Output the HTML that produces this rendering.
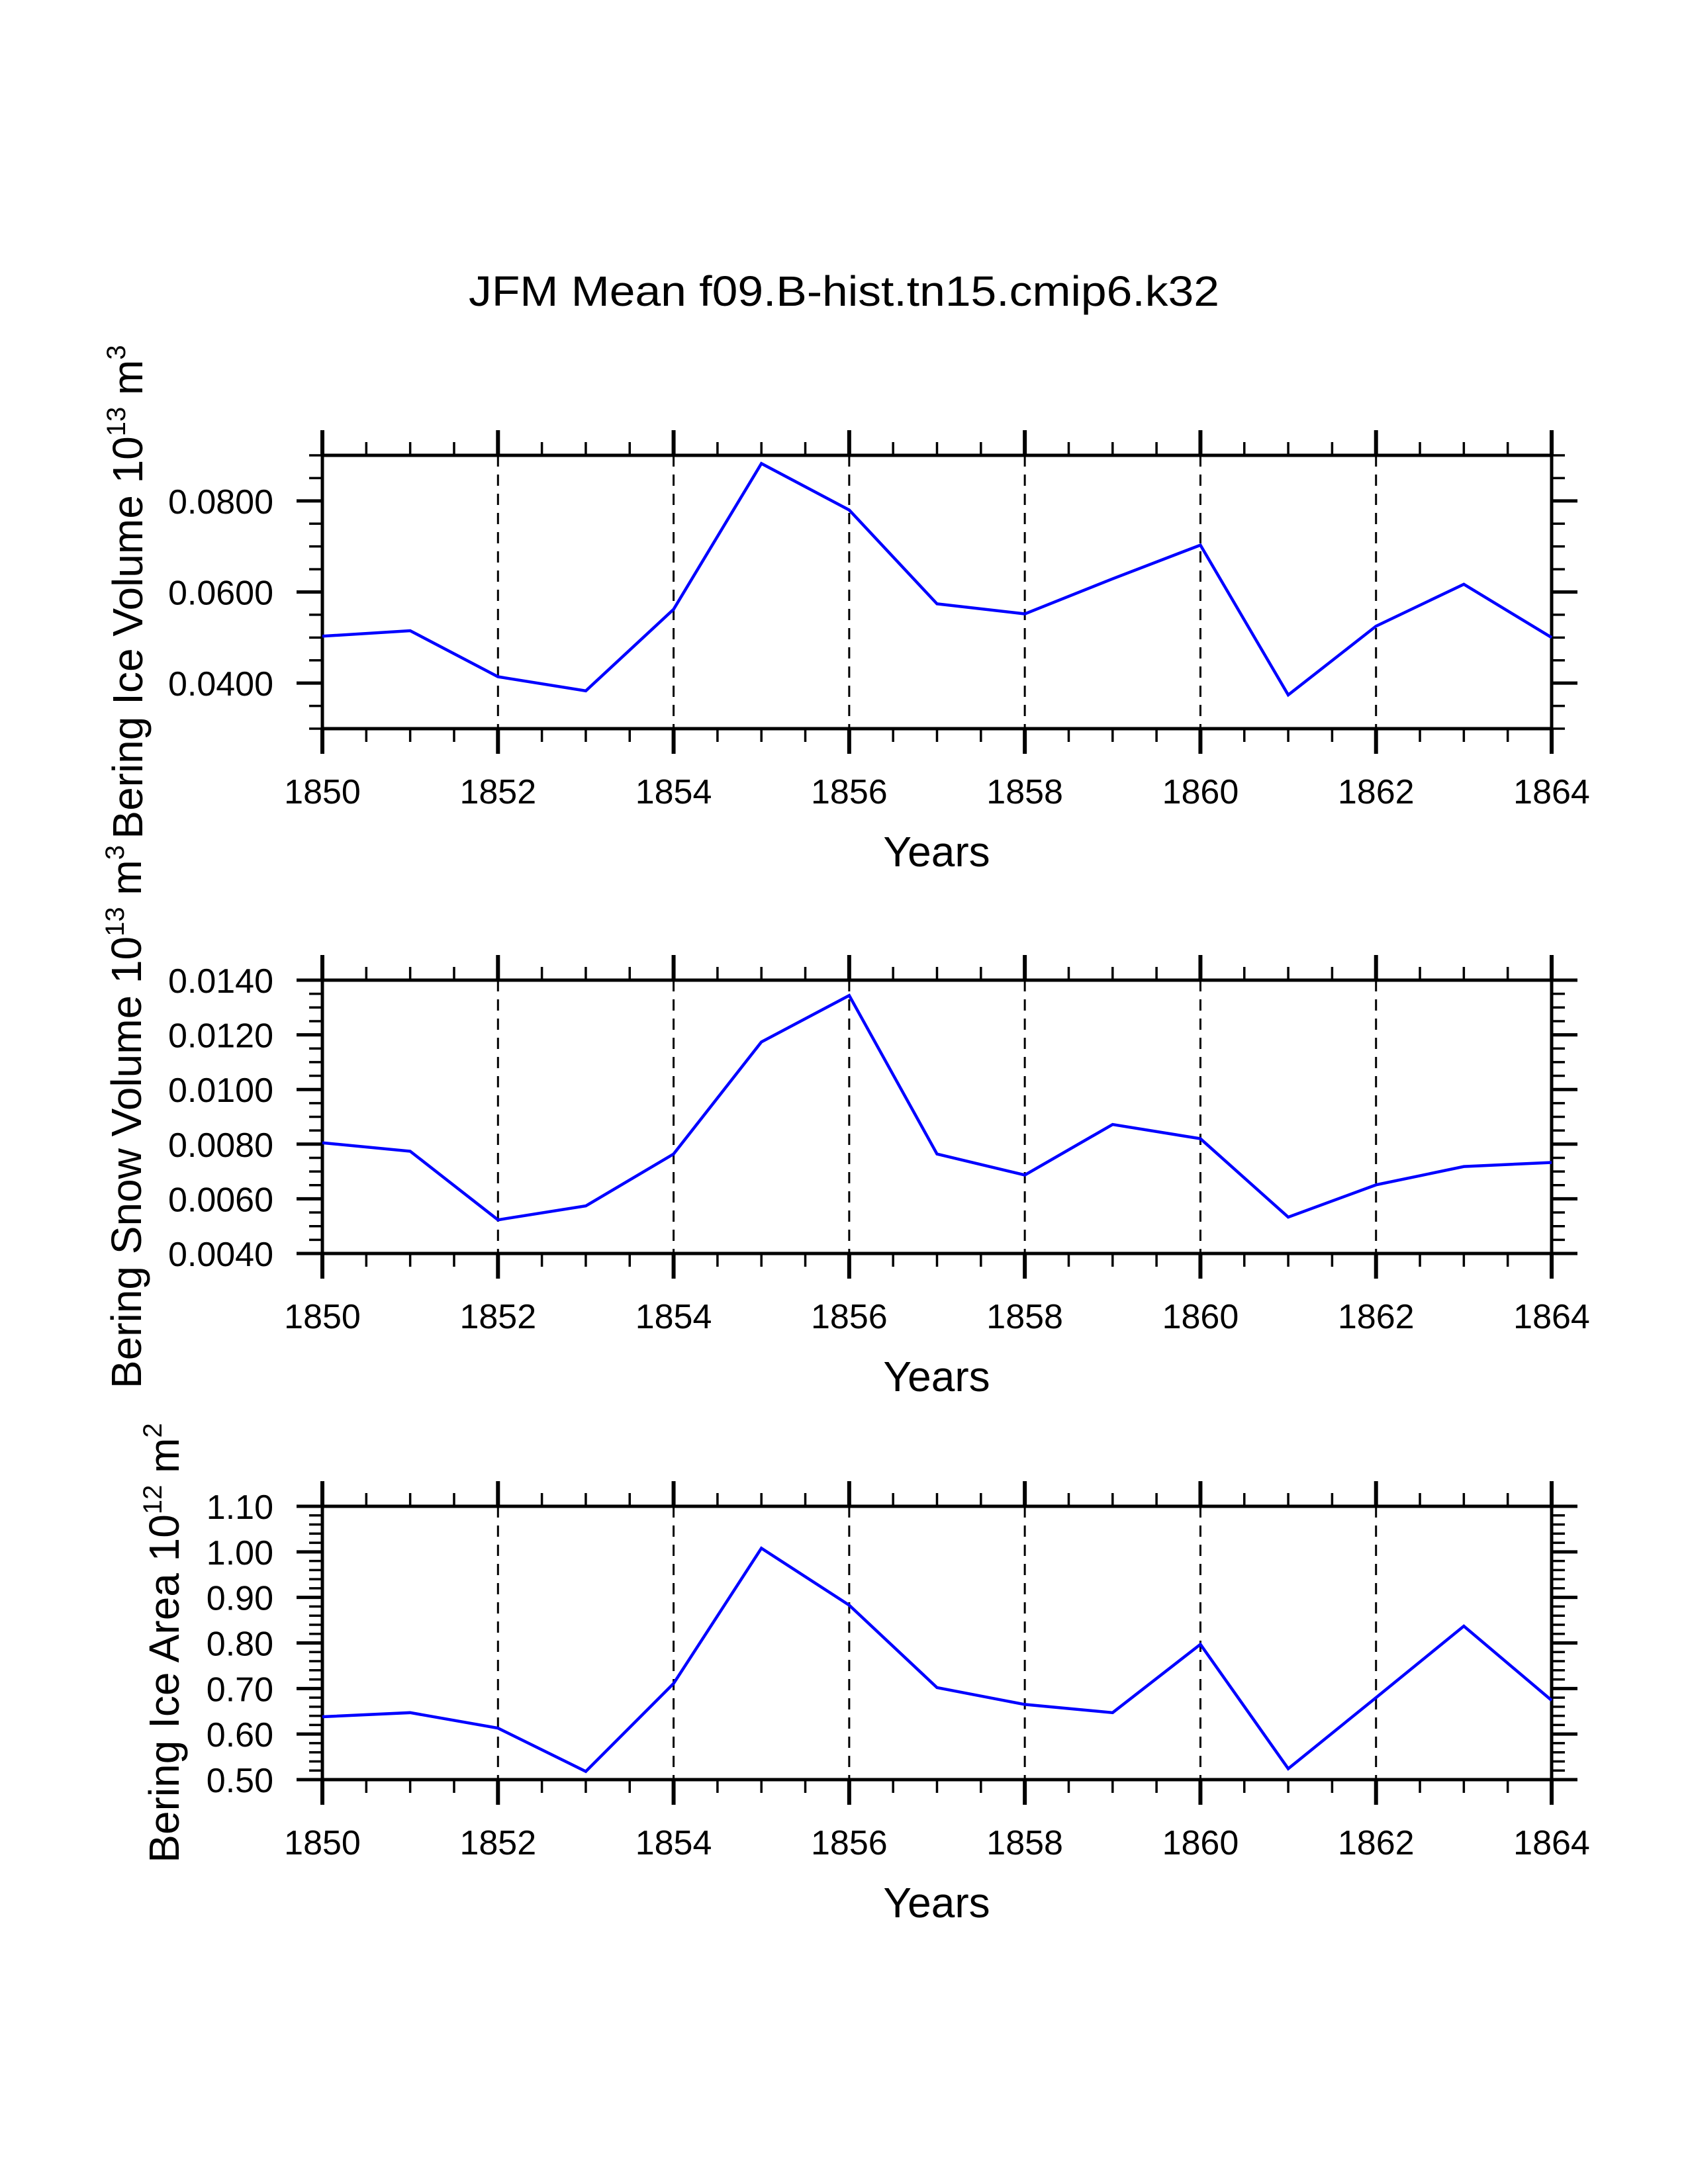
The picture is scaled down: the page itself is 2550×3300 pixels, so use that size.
<!DOCTYPE html>
<html><head><meta charset="utf-8"><style>
html,body{margin:0;padding:0;background:#fff;}
svg{display:block;}
text{font-family:"Liberation Sans",Arial,sans-serif;fill:#000;}
</style></head>
<body>
<svg id="chart" width="2550" height="3300" viewBox="0 0 2550 3300" xmlns="http://www.w3.org/2000/svg">
<text x="1275" y="462" font-size="64" text-anchor="middle" textLength="1134" lengthAdjust="spacingAndGlyphs">JFM Mean f09.B-hist.tn15.cmip6.k32</text>
</svg>
<script>
const years = [1850,1851,1852,1853,1854,1855,1856,1857,1858,1859,1860,1861,1862,1863,1864];
const iceVolume = [0.0503,0.0515,0.0414,0.0383,0.0562,0.0882,0.0780,0.0574,0.0552,0.0629,0.0703,0.0374,0.0525,0.0617,0.0500];
const snowVolume = [0.00805,0.00774,0.00523,0.00574,0.00764,0.01174,0.01344,0.00764,0.00687,0.00872,0.00820,0.00533,0.00651,0.00718,0.00733];
const iceArea = [0.638,0.647,0.613,0.518,0.711,1.008,0.883,0.702,0.665,0.647,0.797,0.524,0.680,0.837,0.674];
const xTickLabels = ["1850","1852","1854","1856","1858","1860","1862","1864"];
const iceVolTicks = ["0.0400","0.0600","0.0800"];
const snowVolTicks = ["0.0040","0.0060","0.0080","0.0100","0.0120","0.0140"];
const iceAreaTicks = ["0.50","0.60","0.70","0.80","0.90","1.00","1.10"];

const NS="http://www.w3.org/2000/svg";
const svg=document.getElementById('chart');
const X0=487,X1=2344,XMIN=1850,XMAX=1864;
function xs(v){return X0+(v-XMIN)/(XMAX-XMIN)*(X1-X0);}
function mk(tag,attrs,parent){const e=document.createElementNS(NS,tag);for(const k in attrs)e.setAttribute(k,attrs[k]);(parent||svg).appendChild(e);return e;}

const panels=[
 {name:'ice-volume',top:688,bot:1101,min:0.03,max:0.09,minor:0.005,ticks:iceVolTicks,data:iceVolume,lx:215,label:'Bering Ice Volume 10',sup1:'13',unit:' m',sup2:'3'},
 {name:'snow-volume',top:1481,bot:1894,min:0.004,max:0.014,minor:0.0005,ticks:snowVolTicks,data:snowVolume,lx:213,label:'Bering Snow Volume 10',sup1:'13',unit:' m',sup2:'3'},
 {name:'ice-area',top:2276,bot:2689,min:0.5,max:1.1,minor:0.02,ticks:iceAreaTicks,data:iceArea,lx:270,label:'Bering Ice Area 10',sup1:'12',unit:' m',sup2:'2'}
];

panels.forEach(p=>{
  const g=mk('g',{});
  
  
  const ys=v=>p.bot-(v-p.min)/(p.max-p.min)*(p.bot-p.top);
  for(let i=1;i<xTickLabels.length-1;i++){
    const x=xs(+xTickLabels[i]);
    const l=mk('line',{x1:x,x2:x,y1:p.top,y2:p.bot,stroke:'#000','stroke-width':3,'stroke-dasharray':'17 12'},g);
    
    
  }
  for(let v=XMIN;v<=XMAX+1e-9;v+=0.5){
    const x=xs(v);const major=Math.abs((v-XMIN)%2)<1e-9;
    const len=major?38:20,w=major?6:3.5;
    mk('line',{x1:x,x2:x,y1:p.top,y2:p.top-len,stroke:'#000','stroke-width':w},g);
    mk('line',{x1:x,x2:x,y1:p.bot,y2:p.bot+len,stroke:'#000','stroke-width':w},g);
  }
  const n=Math.round((p.max-p.min)/p.minor);
  const majorVals=p.ticks.map(Number);
  for(let i=0;i<=n;i++){
    const v=p.min+i*p.minor;const y=ys(v);
    const major=majorVals.some(m=>Math.abs(m-v)<p.minor/10);
    const len=major?39:20,w=major?5:3.5;
    mk('line',{x1:X0,x2:X0-len,y1:y,y2:y,stroke:'#000','stroke-width':w},g);
    mk('line',{x1:X1,x2:X1+len,y1:y,y2:y,stroke:'#000','stroke-width':w},g);
  }
  const r=mk('rect',{x:X0,y:p.top,width:X1-X0,height:p.bot-p.top,fill:'none',stroke:'#000','stroke-width':5},g);
  
  
  p.ticks.forEach(t=>{
    const tx=mk('text',{x:413,y:ys(+t)+19,'font-size':52,'text-anchor':'end'},g);
    tx.textContent=t;
    
    
  });
  xTickLabels.forEach(t=>{
    const tx=mk('text',{x:xs(+t),y:p.bot+113,'font-size':52,'text-anchor':'middle'},g);
    tx.textContent=t;
    
    
  });
  const xt=mk('text',{x:1415,y:p.bot+208,'font-size':64,'text-anchor':'middle'},g);
  xt.textContent='Years';
  
  
  const cy=(p.top+p.bot)/2;
  const yt=mk('text',{x:0,y:0,'font-size':64,'text-anchor':'middle',transform:`translate(${p.lx},${cy}) rotate(-90)`},g);
  
  
  const a=mk('tspan',{},yt);a.textContent=p.label;
  const b=mk('tspan',{'font-size':40,dy:-26},yt);b.textContent=p.sup1;
  const c=mk('tspan',{dy:26},yt);c.textContent=p.unit;
  const d=mk('tspan',{'font-size':40,dy:-26},yt);d.textContent=p.sup2;
  const pts=p.data.map((v,i)=>xs(years[i])+','+ys(v)).join(' ');
  const pl=mk('polyline',{points:pts,fill:'none',stroke:'#0000ff','stroke-width':4.5,'stroke-linejoin':'miter'},g);
  
  
});
</script>
</body></html>
